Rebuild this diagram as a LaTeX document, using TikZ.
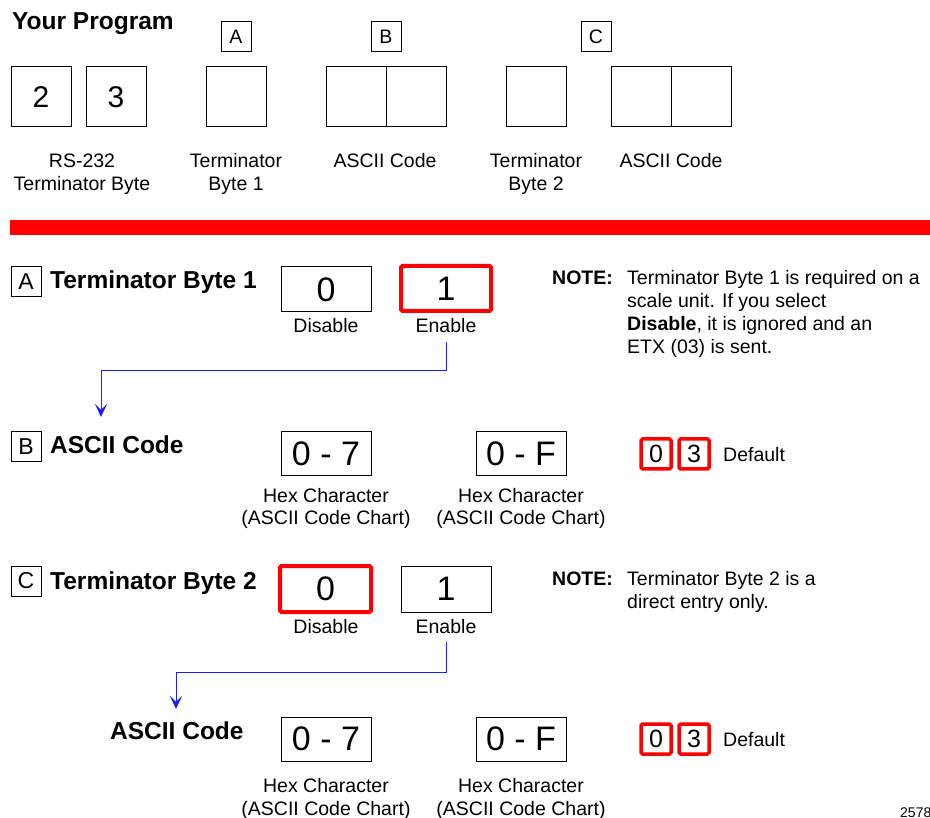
\documentclass[tikz,border=0pt]{standalone}
\usepackage{fontspec}
\setmainfont{Liberation Sans}
\usetikzlibrary{arrows.meta}
\definecolor{tred}{RGB}{255,0,0}
\definecolor{tblue}{RGB}{30,30,255}
\begin{document}
\begin{tikzpicture}[x=1pt,y=-1pt,
  lab/.style={anchor=base,inner sep=0pt,font=\fontsize{19.5}{23}\selectfont},
  labw/.style={anchor=base west,inner sep=0pt,font=\fontsize{19.5}{23}\selectfont},
  ttl/.style={anchor=base west,inner sep=0pt,font=\fontsize{24.5}{28}\selectfont\bfseries},
  bigbox/.style={draw=black,line width=1pt,minimum width=60pt,minimum height=60pt,inner sep=0pt,font=\fontsize{30}{31}\selectfont},
  letbox/.style={draw=black,line width=1pt,minimum width=30pt,minimum height=30pt,inner sep=0pt,font=\fontsize{19.5}{20}\selectfont},
  secbox/.style={draw=black,line width=1pt,minimum width=30pt,minimum height=30pt,inner sep=0pt,font=\fontsize{23}{24}\selectfont},
  valbox/.style={draw=black,line width=1pt,minimum width=90pt,minimum height=45pt,inner sep=0pt,font=\fontsize{34}{35}\selectfont},
  selbox/.style={draw=tred,line width=4pt,rounded corners=1.5pt,minimum width=90pt,minimum height=45pt,inner sep=0pt,font=\fontsize{34}{35}\selectfont},
  defbox/.style={draw=tred,line width=3.5pt,rounded corners=1.5pt,minimum width=30pt,minimum height=30pt,inner sep=0pt,font=\fontsize{25}{26}\selectfont},
  arr/.style={draw=tblue,line width=1pt,-{Stealth[length=13pt,width=12pt,inset=6pt]}}
]
\useasboundingbox (0,0) rectangle (930,818);

% ---- Your Program ----
\node[ttl] (yp) at (12,30) {Your Program};
\node[letbox] (la) at (236,37) {A};
\node[letbox] (lb) at (386,37) {B};
\node[letbox] (lc) at (596,37) {C};

\node[bigbox] (p2) at (41,97) {2};
\node[bigbox] (p3) at (116,97) {3};
\node[bigbox] (pt1) at (236,97) {};
\node[bigbox] (pa1) at (356,97) {};
\node[bigbox] (pa2) at (416,97) {};
\node[bigbox] (pt2) at (536,97) {};
\node[bigbox] (pc1) at (641,97) {};
\node[bigbox] (pc2) at (701,97) {};

\node[lab] (l1a) at (82,168) {RS-232};
\node[lab] (l1b) at (82,191) {Terminator Byte};
\node[lab] (l2a) at (236,168) {Terminator};
\node[lab] (l2b) at (236,191) {Byte 1};
\node[lab] (l3a) at (385,168) {ASCII Code};
\node[lab] (l4a) at (536,168) {Terminator};
\node[lab] (l4b) at (536,191) {Byte 2};
\node[lab] (l5a) at (671,168) {ASCII Code};

% ---- red bar ----
\fill[tred] (10,220) rectangle (930,235);

% ---- Section A ----
\node[secbox] (sa) at (26,282) {A};
\node[ttl] (ta) at (50,289) {Terminator Byte 1};
\node[valbox] (a0) at (326,289.5) {0};
\node[selbox] (a1) at (446,288.5) {1};
\node[lab] (ad) at (326,333) {Disable};
\node[lab] (ae) at (446,333) {Enable};
\node[labw] (na) at (552,285) {\bfseries NOTE:};
\node[labw] (na1) at (627,285) {Terminator Byte 1 is required on a};
\node[labw] (na2) at (627,308) {scale unit. If you select};
\node[labw] (na3) at (627,331) {\textbf{Disable}, it is ignored and an};
\node[labw] (na4) at (627,354) {ETX (03) is sent.};

\coordinate (ars) at (446,342);
\coordinate (arm) at (101,371);
\coordinate (are) at (101,417);
\draw[arr] (ars) |- (arm) -- (are);

% ---- Section B ----
\node[secbox] (sb) at (26,447) {B};
\node[ttl] (tb) at (50,454) {ASCII Code};
\node[valbox,minimum height=44pt] (b0) at (326,454) {0 - 7};
\node[valbox,minimum height=44pt] (b1) at (521,454) {0 - F};
\node[lab] (bh0) at (326,502) {Hex Character};
\node[lab] (bc0) at (326,525) {(ASCII Code Chart)};
\node[lab] (bh1) at (521,502) {Hex Character};
\node[lab] (bc1) at (521,525) {(ASCII Code Chart)};
\node[defbox] (bd0) at (656,454) {0};
\node[defbox] (bd1) at (694,454) {3};
\node[labw] (bdt) at (723,461) {Default};

% ---- Section C ----
\node[secbox] (sc) at (26,581) {C};
\node[ttl] (tc) at (50,589) {Terminator Byte 2};
\node[selbox,minimum width=91pt,minimum height=46pt] (c0) at (325.5,589) {0};
\node[valbox,minimum height=46pt] (c1) at (446,589) {1};
\node[lab] (cd) at (326,633) {Disable};
\node[lab] (ce) at (446,633) {Enable};
\node[labw] (nc) at (552,585) {\bfseries NOTE:};
\node[labw] (nc1) at (627,585) {Terminator Byte 2 is a};
\node[labw] (nc2) at (627,608) {direct entry only.};

\coordinate (crs) at (446,642);
\coordinate (crm) at (176,672);
\coordinate (cre) at (176,709);
\draw[arr] (crs) |- (crm) -- (cre);

\node[ttl] (tc2) at (110,739) {ASCII Code};
\node[valbox,minimum height=44pt] (d0) at (326,739) {0 - 7};
\node[valbox,minimum height=44pt] (d1) at (521,739) {0 - F};
\node[lab] (dh0) at (326,792) {Hex Character};
\node[lab] (dc0) at (326,815) {(ASCII Code Chart)};
\node[lab] (dh1) at (521,792) {Hex Character};
\node[lab] (dc1) at (521,815) {(ASCII Code Chart)};
\node[defbox] (dd0) at (656,739) {0};
\node[defbox] (dd1) at (694,739) {3};
\node[labw] (ddt) at (723,746) {Default};

\node[anchor=base west,inner sep=0pt,font=\fontsize{14}{15}\selectfont] (fig) at (900,817) {2578};
\end{tikzpicture}
\end{document}
